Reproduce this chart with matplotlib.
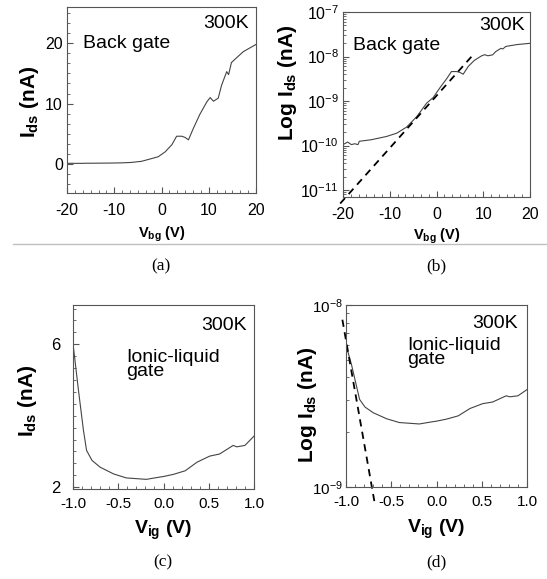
import numpy as np
import matplotlib
matplotlib.use('Agg')
import matplotlib.pyplot as plt
from matplotlib.ticker import (AutoMinorLocator, MultipleLocator, LogLocator, NullFormatter,
                               FixedLocator, FormatStrFormatter)
from matplotlib.lines import Line2D

plt.rcParams['font.family'] = ['Liberation Sans', 'DejaVu Sans']
plt.rcParams['mathtext.fontset'] = 'custom'
plt.rcParams['mathtext.rm'] = 'Liberation Sans'
plt.rcParams['mathtext.bf'] = 'Liberation Sans:bold'
plt.rcParams['mathtext.it'] = 'Liberation Sans:italic'
plt.rcParams['axes.unicode_minus'] = False

# back gate sweep (nA)
vbg = [-20, -19, -18.2, -17.5, -16.8, -16.5, -14, -10.7, -8.5, -6.4, -4.2, -2.1, -0.7,
       0.75, 2.2, 3.2, 4.3, 5.0, 5.7, 6.8, 8.1, 9.6, 10.3, 11.0, 12.0, 12.7, 13.8,
       14.2, 14.8, 15.9, 17.3, 20]
ids_bg = [0.105, 0.12, 0.105, 0.11, 0.105, 0.125, 0.135, 0.16, 0.19, 0.26, 0.45, 0.9, 1.2,
          2.0, 3.2, 4.6, 4.6, 4.4, 4.0, 6.0, 8.2, 10.3, 11.0, 10.4, 10.9, 13.0, 15.3,
          14.8, 16.8, 17.6, 18.6, 19.8]
fit_bg_v = [-20.6, 7.5]
fit_bg_i = [5e-12, 1e-8]

# ionic-liquid gate sweep (nA)
vig = [-1.0, -0.94, -0.885, -0.85, -0.79, -0.70, -0.55, -0.41, -0.19, -0.075, 0.0,
       0.11, 0.24, 0.37, 0.51, 0.62, 0.77, 0.81, 0.9, 1.0]
ids_ig = [6.02, 4.72, 3.6, 3.03, 2.75, 2.56, 2.37, 2.26, 2.22, 2.27, 2.3,
          2.36, 2.46, 2.7, 2.87, 2.93, 3.17, 3.13, 3.17, 3.43]
fit_ig_v = [-1.04, -0.68]
fit_ig_i = [8.3e-9, 8e-10]

W, H = 547, 579
fig = plt.figure(figsize=(W / 100, H / 100), dpi=100)


def box(l, t, r, b):
    return [l / W, 1 - b / H, (r - l) / W, (b - t) / H]


def ftxt(x, y, s, **kw):
    fig.text(x / W, 1 - y / H, s, **kw)


def style(ax):
    for sp in ax.spines.values():
        sp.set_color('#555555')
        sp.set_linewidth(0.8)
    ax.tick_params(which='both', direction='in', color='#555555', labelsize=11,
                   top=False, right=False)
    ax.tick_params(which='major', length=4)
    ax.tick_params(which='minor', length=2)


line_kw = dict(color='#444444', lw=0.8)
dash_kw = dict(color='black', lw=1.3, ls=(0, (4, 3)), clip_on=False)
ylab_kw = dict(fontsize=15, fontweight='bold', ha='center', va='center')

# (a)
ax = fig.add_axes(box(67, 7, 256, 193))
ax.plot(vbg, ids_bg, **line_kw)
ax.set_xlim(-20, 20)
ax.set_ylim(-4.8, 26)
ax.xaxis.set_major_locator(MultipleLocator(10))
ax.xaxis.set_minor_locator(AutoMinorLocator(6))
ax.yaxis.set_major_locator(MultipleLocator(10))
ax.yaxis.set_minor_locator(AutoMinorLocator(6))
style(ax)
ax.tick_params(axis='both', labelsize=11.5)
ax.tick_params(axis='x', pad=7)
ax.tick_params(axis='y', pad=3)
ax.set_xlabel(r'V$_{\mathbf{bg}}$ (V)', fontsize=10.5, fontweight='bold')
ax.xaxis.set_label_coords(0.5, -0.17)
ax.set_ylabel(r'I$_{\mathbf{ds}}$ (nA)', **ylab_kw)
ax.yaxis.set_label_coords(-0.196, 0.49)

# (b)
ax = fig.add_axes(box(343, 12, 530, 197))
ax.semilogy(vbg, np.array(ids_bg) * 1e-9, **line_kw)
ax.semilogy(fit_bg_v, fit_bg_i, **dash_kw)
ax.set_xlim(-20, 20)
ax.set_ylim(7e-12, 1e-7)
ax.xaxis.set_major_locator(MultipleLocator(10))
ax.xaxis.set_minor_locator(AutoMinorLocator(6))
ax.yaxis.set_major_locator(LogLocator(base=10, numticks=10))
ax.yaxis.set_minor_locator(LogLocator(base=10, subs=np.arange(2, 10), numticks=20))
ax.yaxis.set_minor_formatter(NullFormatter())
style(ax)
ax.tick_params(axis='both', labelsize=11.5)
ax.tick_params(axis='x', pad=7)
ax.tick_params(axis='y', pad=3)
ax.set_xlabel(r'V$_{\mathbf{bg}}$ (V)', fontsize=10.5, fontweight='bold')
ax.xaxis.set_label_coords(0.5, -0.16)
ax.set_ylabel(r'Log I$_{\mathbf{ds}}$ (nA)', **ylab_kw)
ax.yaxis.set_label_coords(-0.297, 0.616)

# (c)
ax = fig.add_axes(box(73, 305, 254, 489))
ax.plot(vig, ids_ig, **line_kw)
ax.set_xlim(-1.0, 1.0)
ax.set_ylim(1.95, 7.1)
ax.xaxis.set_major_locator(MultipleLocator(0.5))
ax.xaxis.set_minor_locator(AutoMinorLocator(5))
ax.yaxis.set_major_locator(FixedLocator([2, 6]))
ax.yaxis.set_minor_locator(MultipleLocator(1 / 3))
ax.xaxis.set_major_formatter(FormatStrFormatter('%.1f'))
style(ax)
ax.tick_params(axis='x', pad=6)
ax.tick_params(axis='y', pad=9, labelsize=12)
ax.set_xlabel(r'V$_{\mathbf{ig}}$ (V)', fontsize=14, fontweight='bold')
ax.xaxis.set_label_coords(0.5, -0.16)
ax.set_ylabel(r'I$_{\mathbf{ds}}$ (nA)', **ylab_kw)
ax.yaxis.set_label_coords(-0.254, 0.478)

# (d)
ax = fig.add_axes(box(346, 305, 527, 487))
ax.semilogy(vig, np.array(ids_ig) * 1e-9, **line_kw)
ax.semilogy(fit_ig_v, fit_ig_i, **dash_kw)
ax.set_xlim(-1.0, 1.0)
ax.set_ylim(1e-9, 1e-8)
ax.xaxis.set_major_locator(MultipleLocator(0.5))
ax.xaxis.set_minor_locator(AutoMinorLocator(5))
ax.xaxis.set_major_formatter(FormatStrFormatter('%.1f'))
ax.yaxis.set_minor_formatter(NullFormatter())
style(ax)
ax.tick_params(axis='x', pad=6)
ax.tick_params(axis='y', pad=2)
ax.set_xlabel(r'V$_{\mathbf{ig}}$ (V)', fontsize=14, fontweight='bold')
ax.xaxis.set_label_coords(0.5, -0.17)
ax.set_ylabel(r'Log I$_{\mathbf{ds}}$ (nA)', **ylab_kw)
ax.yaxis.set_label_coords(-0.21, 0.45)

# annotations
ann = dict(fontsize=14)
ftxt(249, 24, '300K', ha='right', va='center', **ann)
ftxt(83, 43, 'Back gate', ha='left', va='center', **ann)
ftxt(525, 26, '300K', ha='right', va='center', **ann)
ftxt(353, 46, 'Back gate', ha='left', va='center', **ann)
ftxt(247, 325, '300K', ha='right', va='center', **ann)
ftxt(126, 349, 'Ionic-liquid\ngate', ha='left', va='top', linespacing=0.8, **ann)
ftxt(518, 323, '300K', ha='right', va='center', **ann)
ftxt(407, 337, 'Ionic-liquid\ngate', ha='left', va='top', linespacing=0.8, **ann)

# separator and panel captions
fig.add_artist(Line2D([13 / W, 1], [1 - 244 / H] * 2, transform=fig.transFigure,
                      color='#c0c0c0', lw=1))
cap = dict(fontsize=12.5, family='Liberation Serif', ha='center', va='center')
ftxt(161, 266, '(a)', **cap)
ftxt(436, 266, '(b)', **cap)
ftxt(163, 562, '(c)', **cap)
ftxt(436, 562, '(d)', **cap)

fig.savefig('out.png', dpi=100)
